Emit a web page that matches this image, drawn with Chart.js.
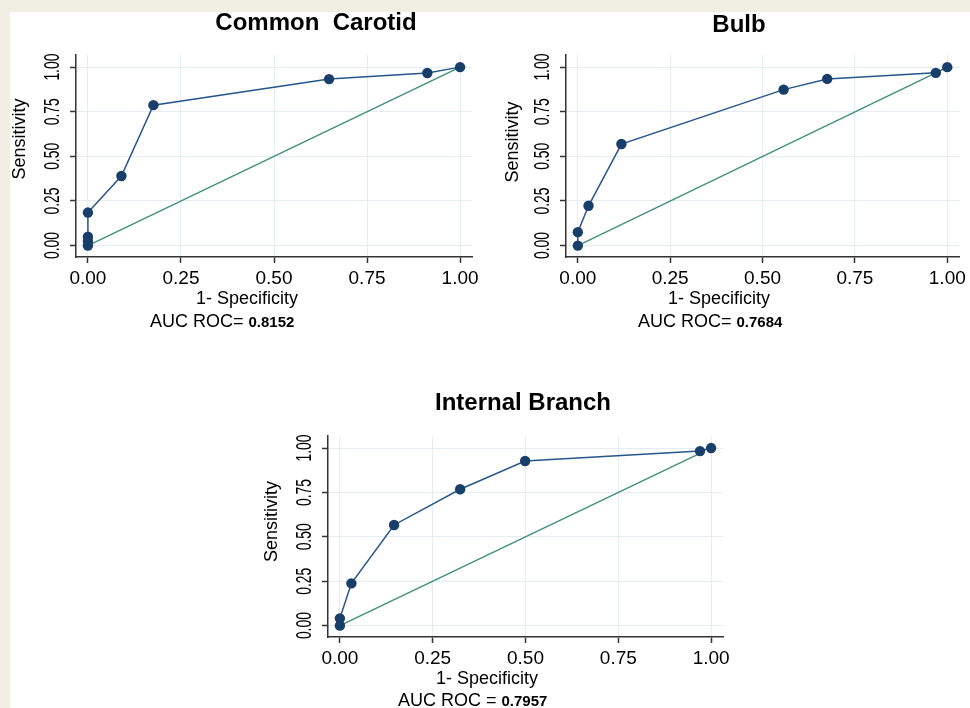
<!DOCTYPE html>
<html>
<head>
<meta charset="utf-8">
<script src="https://cdn.jsdelivr.net/npm/chart.js@4.4.1/dist/chart.umd.min.js"></script>
<style>
  html, body { margin: 0; padding: 0; }
  body { width: 970px; height: 708px; background: #efefe4; position: relative; overflow: hidden; }
  #hoja { position: absolute; left: 10px; top: 12px; right: 0; bottom: 0; background: #fff; }
  canvas { position: absolute; }
</style>
</head>
<body>
<div id="hoja"></div>
<canvas id="g1" width="485" height="345" style="left:0px;top:0px"></canvas>
<canvas id="g2" width="485" height="345" style="left:485px;top:0px"></canvas>
<canvas id="g3" width="500" height="328" style="left:240px;top:380px"></canvas>
<script>
// Ticks compartidos por los tres gráficos
const tickValues = [0, 0.25, 0.5, 0.75, 1];
const tickLabels = ['0.00', '0.25', '0.50', '0.75', '1.00'];

// Common Carotid
const ccFpr  = [0, 0, 0, 0, 0.09, 0.176, 0.648, 0.912, 1];
const ccSens = [0, 0.025, 0.05, 0.185, 0.39, 0.787, 0.933, 0.967, 1];
const ccRefX = [0, 1];
const ccRefY = [0, 1];

// Bulb
const buFpr  = [0, 0, 0.029, 0.118, 0.557, 0.675, 0.969, 1];
const buSens = [0, 0.075, 0.223, 0.569, 0.874, 0.934, 0.968, 1];
const buRefX = [0, 0.969];
const buRefY = [0, 0.968];

// Internal Branch
const ibFpr  = [0, 0, 0.031, 0.146, 0.324, 0.499, 0.97, 1];
const ibSens = [0, 0.041, 0.238, 0.567, 0.768, 0.927, 0.983, 1];
const ibRefX = [0, 0.97];
const ibRefY = [0, 0.97];

// Títulos y AUC
const titulos = ['Common  Carotid', 'Bulb', 'Internal Branch'];
const aucTextos = ['AUC ROC=', 'AUC ROC=', 'AUC ROC ='];
const aucValores = ['0.8152', '0.7684', '0.7957'];

const fuente = '"Liberation Sans", Arial, sans-serif';

// Plugin para los textos estilo Stata (ticks Y rotados, etiquetas, título, AUC)
const textosPlugin = {
    id: 'textos',
    afterDraw(chart, args, o) {
        const ctx = chart.ctx;
        const a = chart.chartArea;
        const ejeY = chart.scales.y;
        ctx.save();
        ctx.fillStyle = '#000';
        ctx.textAlign = 'center';
        ctx.textBaseline = 'middle';

        // etiquetas del eje Y, rotadas y algo comprimidas
        ctx.font = '22px ' + fuente;
        tickValues.forEach((v, i) => {
            ctx.save();
            ctx.translate(a.left - 23, ejeY.getPixelForValue(v));
            ctx.rotate(-Math.PI / 2);
            ctx.scale(0.63, 1);
            ctx.fillText(tickLabels[i], 0, 0);
            ctx.restore();
        });

        // título del eje Y
        ctx.font = '18px ' + fuente;
        ctx.save();
        ctx.translate(a.left + o.ylabDx, (a.top + a.bottom) / 2 + o.ylabDy);
        ctx.rotate(-Math.PI / 2);
        ctx.fillText('Sensitivity', 0, 0);
        ctx.restore();

        // título del eje X
        ctx.fillText('1- Specificity', a.left + o.xlabDx, a.bottom + 42);

        // título del gráfico
        ctx.font = 'bold 24px ' + fuente;
        ctx.fillText(o.titulo, a.left + o.titleDx, a.top + o.titleDy);

        // AUC
        ctx.textAlign = 'left';
        ctx.font = '18px ' + fuente;
        ctx.fillText(o.aucTexto, a.left + o.aucDx, a.bottom + o.aucDy);
        const w = ctx.measureText(o.aucTexto).width;
        ctx.font = 'bold 15px ' + fuente;
        ctx.fillText(o.aucValor, a.left + o.aucDx + w + 5, a.bottom + o.aucDy + 1);
        ctx.restore();
    }
};

function crearGrafico(id, fpr, sens, refX, refY, area, textos) {
    const puntos = fpr.map((x, i) => ({ x: x, y: sens[i] }));
    const diagonal = refX.map((x, i) => ({ x: x, y: refY[i] }));

    return new Chart(document.getElementById(id), {
        type: 'scatter',
        data: {
            datasets: [{
                data: puntos,
                showLine: true,
                borderColor: '#26568a',
                borderWidth: 1.5,
                pointRadius: 5.2,
                pointBackgroundColor: '#173f6a',
                pointBorderWidth: 0
            }, {
                data: diagonal,
                showLine: true,
                borderColor: '#3f8f78',
                borderWidth: 1.3,
                pointRadius: 0
            }]
        },
        options: {
            responsive: false,
            animation: false,
            layout: { padding: { top: area.top, right: area.right, left: 0, bottom: 0 } },
            plugins: {
                legend: { display: false },
                tooltip: { enabled: false },
                textos: textos
            },
            scales: {
                x: {
                    type: 'linear',
                    min: -0.032,
                    max: 1.032,
                    afterBuildTicks: ax => { ax.ticks = tickValues.map(v => ({ value: v })); },
                    afterFit: ax => { ax.height = area.xHeight; },
                    grid: { color: '#e3edf2', lineWidth: 1, tickLength: 6, tickColor: '#333', tickWidth: 1.5 },
                    border: { color: '#333', width: 1.5 },
                    ticks: {
                        color: '#000',
                        font: { size: 19, family: fuente },
                        padding: 4,
                        maxRotation: 0,
                        callback: (v, i) => tickLabels[i]
                    }
                },
                y: {
                    type: 'linear',
                    min: -0.064,
                    max: 1.068,
                    afterBuildTicks: ax => { ax.ticks = tickValues.map(v => ({ value: v })); },
                    afterFit: ax => { ax.width = area.yWidth; },
                    grid: { color: '#e3edf2', lineWidth: 1, tickLength: 6, tickColor: '#333', tickWidth: 1.5 },
                    border: { color: '#333', width: 1.5 },
                    ticks: { display: false }
                }
            }
        },
        plugins: [textosPlugin]
    });
}

crearGrafico('g1', ccFpr, ccSens, ccRefX, ccRefY,
    { top: 55, right: 13, yWidth: 76, xHeight: 88 },
    { titulo: titulos[0], titleDx: 240, titleDy: -32, ylabDx: -56, ylabDy: -17, xlabDx: 171,
      aucTexto: aucTextos[0], aucValor: aucValores[0], aucDx: 74, aucDy: 65 });

crearGrafico('g2', buFpr, buSens, buRefX, buRefY,
    { top: 55, right: 8, yWidth: 81, xHeight: 88 },
    { titulo: titulos[1], titleDx: 173, titleDy: -30, ylabDx: -53, ylabDy: -14, xlabDx: 153,
      aucTexto: aucTextos[1], aucValor: aucValores[1], aucDx: 72, aucDy: 65 });

crearGrafico('g3', ibFpr, ibSens, ibRefX, ibRefY,
    { top: 56, right: 17, yWidth: 88, xHeight: 71 },
    { titulo: titulos[2], titleDx: 195, titleDy: -33, ylabDx: -56, ylabDy: -15, xlabDx: 159,
      aucTexto: aucTextos[2], aucValor: aucValores[2], aucDx: 70, aucDy: 64 });
</script>
</body>
</html>
